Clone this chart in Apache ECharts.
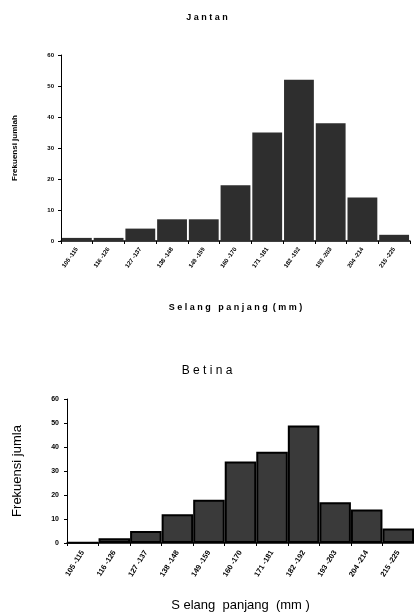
<!DOCTYPE html>
<html><head><meta charset="utf-8">
<script src="https://cdn.jsdelivr.net/npm/echarts@6/dist/echarts.min.js"></script>
<style>html,body{margin:0;padding:0;background:#fff}#c{width:414px;height:615px}</style>
</head><body><div id="c"></div>
<script>
const categories = ['105 -115','116 -126','127 -137','138 -148','149 -159','160 -170','171 -181','182 -192','193 -203','204 -214','215 -225'];
const jantan = [1, 1, 4, 7, 7, 18, 35, 52, 38, 14, 2];
const betina = [0.3, 2, 5, 12, 18, 34, 38, 49, 17, 14, 6];
const yTicks = [0, 10, 20, 30, 40, 50, 60];

const chart = echarts.init(document.getElementById('c'));
const font = '"Liberation Sans", Arial, sans-serif';
chart.setOption({
  animation: false,
  backgroundColor: '#fff',
  title: [
    {text: 'J a n t a n', left: 'center', top: 8, textStyle: {fontFamily: font, fontSize: 9, fontWeight: 'bold', color: '#000'}},
    {text: 'B e t i n a', left: 'center', top: 360, textStyle: {fontFamily: font, fontSize: 12, fontWeight: 'normal', color: '#000'}}
  ],
  grid: [
    {left: 61, top: 55, right: 4, height: 186},
    {left: 67, top: 399, right: -3, height: 144}
  ],
  xAxis: [
    {gridIndex: 0, type: 'category', data: categories,
     axisLine: {lineStyle: {color: '#000', width: 1.5}},
     axisTick: {show: true, length: 3, lineStyle: {color: '#000'}},
     axisLabel: {rotate: 55, fontSize: 6, fontWeight: 'bold', fontFamily: font, color: '#000', margin: 7, interval: 0},
     name: 'S e l a n g   p a n j a n g  ( m m )', nameLocation: 'middle', nameGap: 62,
     nameTextStyle: {fontFamily: font, fontSize: 9, fontWeight: 'bold', color: '#000'}},
    {gridIndex: 1, type: 'category', data: categories,
     axisLine: {lineStyle: {color: '#000', width: 1.5}},
     axisTick: {show: true, length: 3, lineStyle: {color: '#000'}},
     axisLabel: {rotate: 58, fontSize: 7.5, fontWeight: 'bold', fontFamily: font, color: '#000', margin: 8, interval: 0},
     name: 'S elang  panjang  (mm )', nameLocation: 'middle', nameGap: 56,
     nameTextStyle: {fontFamily: font, fontSize: 13, color: '#000'}}
  ],
  yAxis: [
    {gridIndex: 0, type: 'value', min: 0, max: 60, interval: 10,
     axisLine: {show: true, lineStyle: {color: '#000', width: 1}},
     axisTick: {show: true, length: 3, lineStyle: {color: '#000'}},
     splitLine: {show: false},
     axisLabel: {fontSize: 6, fontWeight: 'bold', fontFamily: font, color: '#000', margin: 7},
     name: 'Frekuensi jumlah', nameLocation: 'middle', nameGap: 42,
     nameTextStyle: {fontFamily: font, fontSize: 8, fontWeight: 'bold', color: '#000'}},
    {gridIndex: 1, type: 'value', min: 0, max: 60, interval: 10,
     axisLine: {show: true, lineStyle: {color: '#000', width: 1}},
     axisTick: {show: true, length: 3, lineStyle: {color: '#000'}},
     splitLine: {show: false},
     axisLabel: {fontSize: 7, fontWeight: 'bold', fontFamily: font, color: '#000', margin: 8},
     name: 'Frekuensi jumla', nameLocation: 'middle', nameGap: 43,
     nameTextStyle: {fontFamily: font, fontSize: 13, color: '#000'}}
  ],
  series: [
    {type: 'bar', xAxisIndex: 0, yAxisIndex: 0, data: jantan, barCategoryGap: '6%',
     itemStyle: {color: '#2e2e2e'}},
    {type: 'bar', xAxisIndex: 1, yAxisIndex: 1, data: betina, barCategoryGap: '0%',
     itemStyle: {color: '#3a3a3a', borderColor: '#000', borderWidth: 2}}
  ]
});
</script></body></html>
